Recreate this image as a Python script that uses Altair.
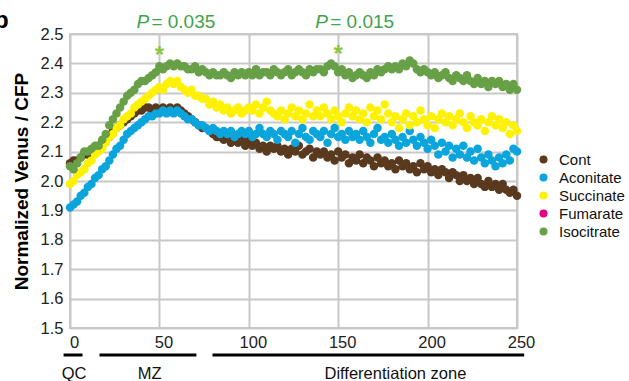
import altair as alt
import pandas as pd

# ---------------- data ----------------
positions = list(range(0, 251, 2))  # distance along the root (x axis)

cont = [
    2.06, 2.07, 2.07, 2.08, 2.09, 2.09, 2.10, 2.11, 2.12, 2.13,
    2.14, 2.15, 2.17, 2.18, 2.19, 2.20, 2.21, 2.22, 2.23, 2.24,
    2.24, 2.25, 2.25, 2.24, 2.25, 2.24, 2.25, 2.24, 2.25, 2.24,
    2.25, 2.24, 2.23, 2.22, 2.21, 2.20, 2.19, 2.18, 2.18, 2.17,
    2.16, 2.15, 2.15, 2.14, 2.15, 2.13, 2.14, 2.13, 2.14, 2.12,
    2.14, 2.12, 2.13, 2.11, 2.12, 2.10, 2.12, 2.11, 2.12, 2.10,
    2.11, 2.09, 2.11, 2.10, 2.12, 2.09, 2.10, 2.11, 2.08, 2.10,
    2.09, 2.10, 2.08, 2.09, 2.07, 2.10, 2.08, 2.09, 2.06, 2.08,
    2.07, 2.09, 2.06, 2.08, 2.07, 2.05, 2.08, 2.06, 2.07, 2.05,
    2.06, 2.04, 2.07, 2.05, 2.06, 2.04, 2.05, 2.03, 2.06, 2.04,
    2.05, 2.03, 2.04, 2.02, 2.04, 2.03, 2.01, 2.03, 2.02, 2.00,
    2.02, 2.00, 2.01, 1.99, 2.01, 1.99, 1.98, 2.00, 1.98, 1.99,
    1.97, 1.99, 1.97, 1.96, 1.97, 1.95,
]

aconitate = [
    1.91, 1.92, 1.93, 1.95, 1.96, 1.98, 1.99, 2.01, 2.02, 2.04,
    2.05, 2.07, 2.09, 2.11, 2.12, 2.14, 2.16, 2.17, 2.18, 2.19,
    2.20, 2.21, 2.22, 2.22, 2.23, 2.23, 2.24, 2.23, 2.24, 2.23,
    2.24, 2.23, 2.22, 2.21, 2.21, 2.20, 2.19, 2.19, 2.18, 2.17,
    2.18, 2.17, 2.16, 2.17, 2.16, 2.17, 2.15, 2.16, 2.17, 2.16,
    2.17, 2.15, 2.16, 2.18, 2.16, 2.15, 2.17, 2.16, 2.14, 2.17,
    2.16, 2.15, 2.17, 2.13, 2.16, 2.18, 2.15, 2.14, 2.17, 2.16,
    2.15, 2.17, 2.13, 2.16, 2.18, 2.15, 2.16, 2.14, 2.17, 2.15,
    2.16, 2.14, 2.17, 2.15, 2.13, 2.16, 2.18, 2.14, 2.15, 2.13,
    2.16, 2.14, 2.12, 2.15, 2.13, 2.17, 2.14, 2.12, 2.15, 2.13,
    2.11, 2.14, 2.12, 2.09, 2.13, 2.10, 2.12, 2.08, 2.11, 2.09,
    2.12, 2.08, 2.10, 2.07, 2.11, 2.08, 2.06, 2.09, 2.07, 2.05,
    2.08, 2.06, 2.09, 2.07, 2.11, 2.10,
]

succinate = [
    1.99, 2.00, 2.02, 2.03, 2.04, 2.06, 2.07, 2.09, 2.10, 2.11,
    2.13, 2.15, 2.16, 2.18, 2.19, 2.21, 2.22, 2.23, 2.25, 2.26,
    2.27, 2.28, 2.29, 2.30, 2.31, 2.32, 2.31, 2.33, 2.34, 2.33,
    2.34, 2.32, 2.31, 2.30, 2.31, 2.29, 2.29, 2.28, 2.28, 2.26,
    2.27, 2.25, 2.26, 2.24, 2.25, 2.23, 2.24, 2.25, 2.23, 2.24,
    2.25, 2.24, 2.26, 2.23, 2.25, 2.27, 2.24, 2.23, 2.22, 2.24,
    2.21, 2.23, 2.25, 2.22, 2.24, 2.21, 2.23, 2.26, 2.22, 2.24,
    2.22, 2.25, 2.23, 2.21, 2.24, 2.22, 2.20, 2.23, 2.25, 2.22,
    2.24, 2.21, 2.23, 2.20, 2.25, 2.22, 2.24, 2.21, 2.26, 2.23,
    2.20, 2.22, 2.18, 2.21, 2.23, 2.19, 2.22, 2.20, 2.24, 2.21,
    2.19, 2.22, 2.18, 2.21, 2.23, 2.20, 2.22, 2.19, 2.21, 2.23,
    2.20, 2.18, 2.22, 2.20, 2.19, 2.21, 2.17, 2.20, 2.22, 2.19,
    2.21, 2.18, 2.20, 2.16, 2.19, 2.17,
]

isocitrate = [
    2.05, 2.04, 2.06, 2.08, 2.10, 2.10, 2.11, 2.12, 2.12, 2.14,
    2.16, 2.19, 2.21, 2.23, 2.25, 2.27, 2.29, 2.30, 2.31, 2.33,
    2.34, 2.34, 2.35, 2.36, 2.37, 2.39, 2.38, 2.39, 2.40, 2.39,
    2.40, 2.39, 2.39, 2.38, 2.38, 2.39, 2.37, 2.38, 2.37, 2.36,
    2.37, 2.36, 2.36, 2.37, 2.36, 2.35, 2.37, 2.36, 2.37, 2.36,
    2.37, 2.36, 2.38, 2.36, 2.37, 2.37, 2.36, 2.38, 2.37, 2.36,
    2.37, 2.38, 2.36, 2.37, 2.38, 2.37, 2.36, 2.38, 2.37, 2.38,
    2.38, 2.37, 2.39, 2.40, 2.39, 2.37, 2.38, 2.36, 2.37, 2.35,
    2.36, 2.37, 2.36, 2.35, 2.37, 2.36, 2.38, 2.37, 2.38, 2.39,
    2.38, 2.39, 2.38, 2.40, 2.39, 2.41, 2.40, 2.38, 2.37, 2.38,
    2.37, 2.36, 2.37, 2.35, 2.36, 2.37, 2.35, 2.34, 2.36, 2.35,
    2.34, 2.36, 2.34, 2.33, 2.35, 2.33, 2.34, 2.32, 2.34, 2.33,
    2.34, 2.32, 2.33, 2.31, 2.33, 2.31,
]

series_names = ["Cont", "Aconitate", "Succinate", "Fumarate", "Isocitrate"]
series_colors = ["#5a3a1f", "#0aa5dc", "#fff200", "#e4007f", "#67a046"]

x_ticks = [0, 50, 100, 150, 200, 250]
y_ticks = [1.5, 1.6, 1.7, 1.8, 1.9, 2.0, 2.1, 2.2, 2.3, 2.4, 2.5]

p_positions = [50, 150]
p_labels = ["= 0.035", "= 0.015"]
star_values = [2.40, 2.405]

zone_names = ["QC", "MZ", "Differentiation zone"]
zone_starts = [-3.6, 16.5, 79.7]
zone_ends = [7.0, 70.7, 254.0]
zone_centers = [2.3, 44.5, 182.0]

# ---------------- build tables ----------------
rows = []
for name, vals in [("Cont", cont), ("Aconitate", aconitate),
                   ("Succinate", succinate), ("Isocitrate", isocitrate)]:
    for pos, v in zip(positions, vals):
        rows.append({"position": pos, "value": v, "series": name})
df = pd.DataFrame(rows)

pdf = pd.DataFrame({"position": p_positions, "label": p_labels, "value": star_values})
zdf = pd.DataFrame({"position": zone_starts, "end": zone_ends,
                    "center": zone_centers, "name": zone_names})

FONT = "Liberation Sans"
P_GREEN = "#3ea44c"
STAR_GREEN = "#8cc63f"
YTITLE = "Normalized Venus / CFP"

xscale = alt.Scale(domain=[0, 250], nice=False)
yscale = alt.Scale(domain=[1.5, 2.5], nice=False, zero=False)

x_axis = alt.Axis(values=x_ticks, labelOffset=4, labelPadding=6,
                  labelOverlap=False, labelFlush=False,
                  labelFontSize=16.5, labelFont=FONT, labelColor="#222")
y_axis = alt.Axis(values=y_ticks, format=".1f", labelPadding=7,
                  labelOverlap=False, labelFlush=False,
                  labelFontSize=16.5, labelFont=FONT, labelColor="#222",
                  titleFont=FONT, titleFontSize=19, titleFontWeight="bold",
                  titleColor="#000", titlePadding=9)

points = alt.Chart(df).mark_circle(size=72, opacity=1).encode(
    x=alt.X("position:Q", scale=xscale, title=None, axis=x_axis),
    y=alt.Y("value:Q", scale=yscale, title=YTITLE, axis=y_axis),
    color=alt.Color("series:N",
                    scale=alt.Scale(domain=series_names, range=series_colors),
                    legend=alt.Legend(title=None, orient="none", legendX=466,
                                      legendY=118, symbolType="circle",
                                      symbolSize=64, symbolOpacity=1,
                                      labelFontSize=15, labelFont=FONT,
                                      labelColor="#111", labelOffset=8,
                                      rowPadding=2)),
)

p_italic = alt.Chart(pdf).mark_text(
    text="P", fontStyle="italic", align="left", baseline="alphabetic",
    dx=-23, fontSize=19, font=FONT, color=P_GREEN
).encode(x=alt.X("position:Q", title=None, axis=x_axis), y=alt.value(-6))

p_value = alt.Chart(pdf).mark_text(
    align="left", baseline="alphabetic", dx=-8, fontSize=19, font=FONT,
    color=P_GREEN
).encode(x=alt.X("position:Q", title=None, axis=x_axis), y=alt.value(-6), text="label:N")

stars = alt.Chart(pdf).mark_text(
    text="*", align="center", baseline="alphabetic", fontSize=24,
    font=FONT, color=STAR_GREEN, fontWeight="bold"
).encode(x=alt.X("position:Q", title=None, axis=x_axis),
         y=alt.Y("value:Q", title=YTITLE, axis=y_axis))

zone_lines = alt.Chart(zdf).mark_rule(strokeWidth=3, color="black").encode(
    x=alt.X("position:Q", title=None, axis=x_axis), x2="end:Q", y=alt.value(321)
)

zone_text = alt.Chart(zdf).mark_text(
    align="center", baseline="alphabetic", fontSize=16.5, font=FONT, color="#111"
).encode(x=alt.X("center:Q", title=None, axis=x_axis), y=alt.value(345), text="name:N")

panel = alt.Chart(pd.DataFrame({"t": ["b"]})).mark_text(
    align="left", baseline="alphabetic", fontSize=24, fontWeight="bold",
    font=FONT, color="#000"
).encode(x=alt.value(-76), y=alt.value(-6), text="t:N")

chart = alt.layer(points, zone_lines, zone_text, p_italic, p_value, stars, panel).properties(
    width=447, height=294,
    padding={"left": 70, "top": 34, "right": 112, "bottom": 53},
    autosize=alt.AutoSizeParams(type="none"),
).configure_view(
    stroke="#c8c8c8", strokeWidth=2
).configure_axis(
    grid=True, gridColor="#c8c8c8", gridWidth=2, domain=False, ticks=False,
    labelOverlap=False
)

chart.save("out.html", embed_options={"renderer": "svg", "actions": False})
